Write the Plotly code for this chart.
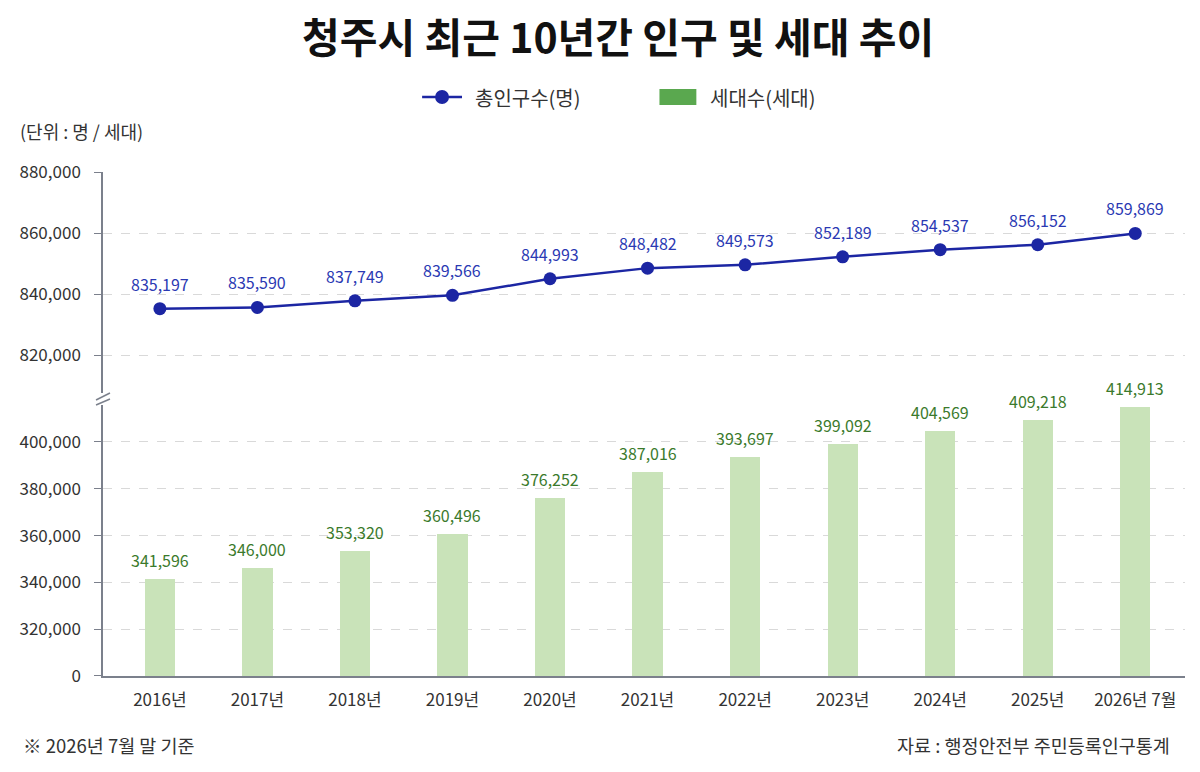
import plotly.graph_objects as go

years = ['2016년', '2017년', '2018년', '2019년', '2020년', '2021년',
         '2022년', '2023년', '2024년', '2025년', '2026년 7월']
population = [835197, 835590, 837749, 839566, 844993, 848482,
              849573, 852189, 854537, 856152, 859869]
households = [341596, 346000, 353320, 360496, 376252, 387016,
              393697, 399092, 404569, 409218, 414913]

upper_ticks = [820000, 840000, 860000, 880000]
lower_ticks = [300000, 320000, 340000, 360000, 380000, 400000]
lower_ticktext = ['0', '320,000', '340,000', '360,000', '380,000', '400,000']

FONT = "Noto Sans CJK KR"
AXIS = "#7b808c"
GRID = "#d9d9d9"
BLUE = "#1c26a3"
TXT = "#333333"

# plot area in figure pixels (page body adds 8px offset)
L, T, W, H = 92, 164, 1085, 504


def px(x):
    return (x - L) / W


def py(y):
    return (T + H - y) / H


fig = go.Figure()

# Households (bars, lower panel)
fig.add_trace(go.Bar(
    x=years, y=households,
    name="세대수(세대)",
    xaxis="x", yaxis="y2",
    marker=dict(color="#c9e3b9", line=dict(width=0)),
    width=0.31,
    showlegend=False,
))

# Population (line, upper panel)
fig.add_trace(go.Scatter(
    x=years, y=population,
    name="총인구수(명)",
    xaxis="x", yaxis="y",
    mode="lines+markers",
    line=dict(color=BLUE, width=2.5),
    marker=dict(color=BLUE, size=13),
    cliponaxis=False,
    showlegend=False,
))

# value labels
for yr, v in zip(years, population):
    fig.add_annotation(x=yr, y=v, xref="x", yref="y", text=f"{v:,}",
                       showarrow=False, yshift=25,
                       font=dict(size=16, color="#2b39b3", family=FONT))
for yr, v in zip(years, households):
    fig.add_annotation(x=yr, y=v, xref="x", yref="y2", text=f"{v:,}",
                       showarrow=False, yshift=19,
                       font=dict(size=16, color="#3b7a2c", family=FONT))

fig.update_layout(
    width=1200, height=772,
    margin=dict(l=L, r=1200 - L - W, t=T, b=772 - T - H),
    paper_bgcolor="white", plot_bgcolor="white",
    font=dict(family=FONT, size=17, color=TXT),
    showlegend=False,
    bargap=0,
    xaxis=dict(anchor="y2", type="category", range=[-0.583, 10.51],
               showline=True, linecolor=AXIS, linewidth=1.5, showgrid=False,
               ticks="", tickfont=dict(size=17, color=TXT), ticklabelstandoff=8),
    yaxis=dict(domain=[0.5615, 1], anchor="x", range=[807540, 880000],
               tickvals=upper_ticks, tickformat=",",
               showline=True, linecolor=AXIS, linewidth=1.5,
               ticks="outside", ticklen=7, tickcolor=AXIS, ticklabelstandoff=10,
               showgrid=True, gridcolor=GRID, griddash="dash", gridwidth=1,
               zeroline=False, tickfont=dict(size=17, color=TXT)),
    yaxis2=dict(domain=[0, 0.5377], anchor="x", range=[300000, 415800],
                tickvals=lower_ticks, ticktext=lower_ticktext,
                showline=True, linecolor=AXIS, linewidth=1.5,
                ticks="outside", ticklen=7, tickcolor=AXIS, ticklabelstandoff=10,
                showgrid=True, gridcolor=GRID, griddash="dash", gridwidth=1,
                zeroline=False, tickfont=dict(size=17, color=TXT)),
)

# Title
fig.add_annotation(text="<b>청주시 최근 10년간 인구 및 세대 추이</b>",
                   xref="paper", yref="paper", x=px(608), y=py(27),
                   xanchor="center", yanchor="middle", showarrow=False,
                   font=dict(size=41, color="#111111", family=FONT))

# Axis break mark "//"
for y0, y1 in [(397, 391), (392, 385)]:
    fig.add_shape(type="line", xref="paper", yref="paper",
                  x0=px(85), x1=px(99), y0=py(y0), y1=py(y1),
                  line=dict(color=AXIS, width=1.5))

# Custom legend
LY = 89
fig.add_shape(type="line", xref="paper", yref="paper",
              x0=px(412), x1=px(452), y0=py(LY), y1=py(LY),
              line=dict(color=BLUE, width=2.5))
fig.add_shape(type="circle", xref="paper", yref="paper",
              x0=px(425), x1=px(439), y0=py(LY + 7), y1=py(LY - 7),
              fillcolor=BLUE, line=dict(color=BLUE, width=0))
fig.add_annotation(text="총인구수(명)", xref="paper", yref="paper",
                   x=px(463), y=py(LY), xanchor="left", yanchor="middle",
                   showarrow=False, font=dict(size=20, color=TXT))
fig.add_shape(type="rect", xref="paper", yref="paper",
              x0=px(650), x1=px(687), y0=py(LY + 8), y1=py(LY - 8),
              fillcolor="#5aa84f", line=dict(width=0))
fig.add_annotation(text="세대수(세대)", xref="paper", yref="paper",
                   x=px(699), y=py(LY), xanchor="left", yanchor="middle",
                   showarrow=False, font=dict(size=20, color=TXT))

fig.add_annotation(text="(단위 : 명 / 세대)", xref="paper", yref="paper",
                   x=px(7), y=py(123), xanchor="left", yanchor="middle",
                   showarrow=False, font=dict(size=18, color=TXT))
fig.add_annotation(text="※ 2026년 7월 말 기준", xref="paper", yref="paper",
                   x=px(10), y=py(737), xanchor="left", yanchor="middle",
                   showarrow=False, font=dict(size=18.5, color=TXT))
fig.add_annotation(text="자료 : 행정안전부 주민등록인구통계", xref="paper", yref="paper",
                   x=px(1164), y=py(737), xanchor="right", yanchor="middle",
                   showarrow=False, font=dict(size=18.5, color=TXT))

fig.write_html("out.html")
